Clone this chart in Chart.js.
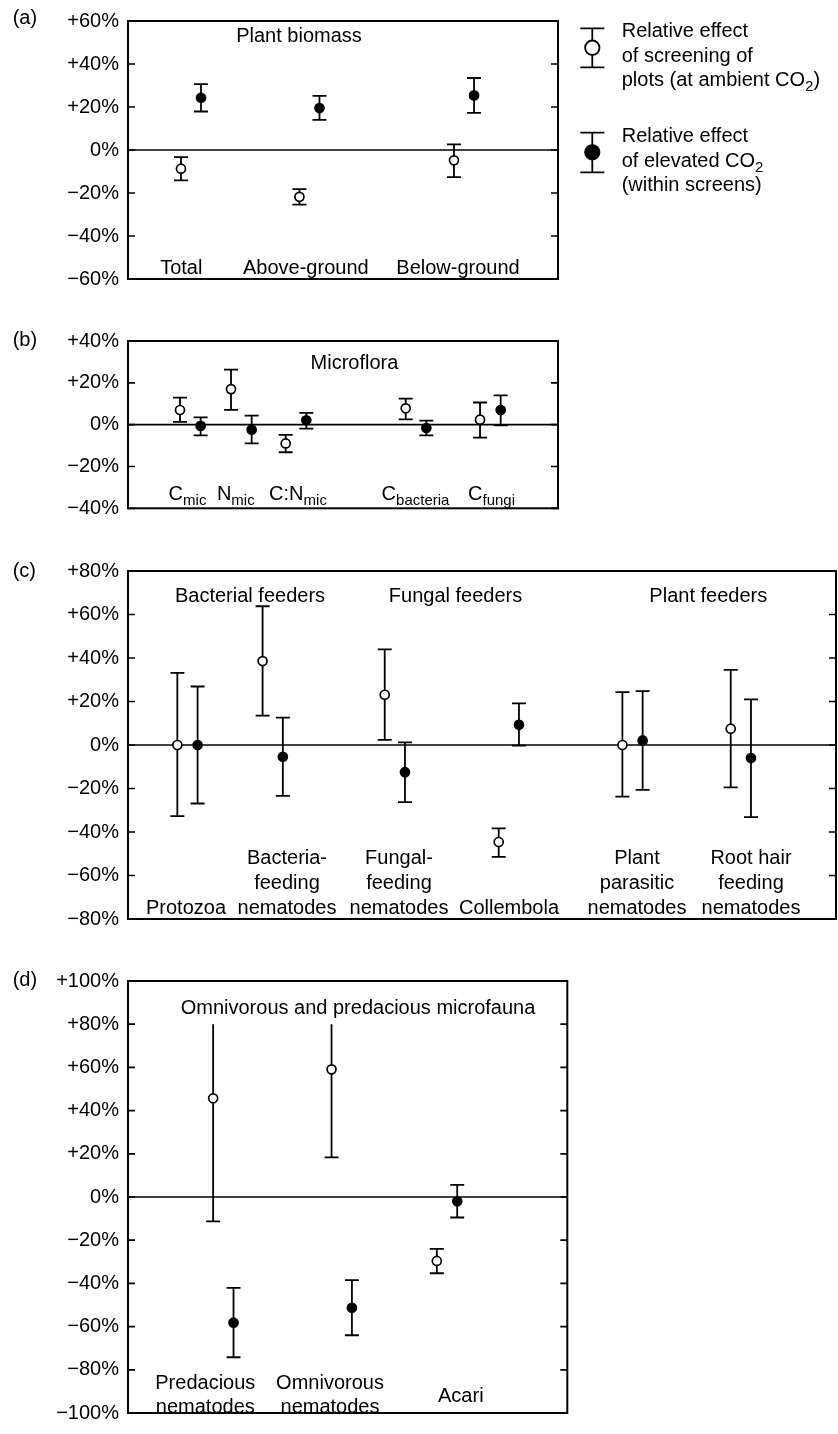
<!DOCTYPE html>
<html>
<head>
<meta charset="utf-8">
<script src="https://cdn.jsdelivr.net/npm/chart.js@4.4.1/dist/chart.umd.min.js"></script>
<style>
  html, body { margin:0; padding:0; background:#fff; }
  #wrap { position:relative; width:838px; height:1434px; background:#fff; }
  canvas { position:absolute; left:0; }
</style>
</head>
<body>
<div id="wrap">
  <canvas id="ca" width="838" height="300" style="top:0px"></canvas>
  <canvas id="cb" width="838" height="210" style="top:320px"></canvas>
  <canvas id="cc" width="838" height="390" style="top:550px"></canvas>
  <canvas id="cd" width="838" height="474" style="top:960px"></canvas>
</div>
<script>
// ---------------- DATA ----------------
// (a) Plant biomass
const aCategories = ['Total', 'Above-ground', 'Below-ground'];
const aScreenMean = [-8.7, -21.8, -4.8];
const aScreenLow  = [-14.1, -25.4, -12.6];
const aScreenHigh = [-3.3, -18.2, 2.6];
const aCO2Mean = [24.3, 19.5, 25.4];
const aCO2Low  = [17.9, 14.0, 17.3];
const aCO2High = [30.6, 25.2, 33.5];
const aTicks = [-60, -40, -20, 0, 20, 40, 60];

// (b) Microflora  (main text, subscript)
const bCategories = [['C','mic'], ['N','mic'], ['C:N','mic'], ['C','bacteria'], ['C','fungi']];
const bScreenMean = [7.0, 17.0, -9.0, 7.8, 2.4];
const bScreenLow  = [1.3, 7.1, -13.2, 2.5, -6.2];
const bScreenHigh = [12.9, 26.3, -4.9, 12.4, 10.6];
const bCO2Mean = [-0.6, -2.4, 2.1, -1.6, 7.0];
const bCO2Low  = [-5.1, -9.0, -1.9, -5.1, -0.3];
const bCO2High = [3.5, 4.3, 5.6, 1.9, 14.0];
const bTicks = [-40, -20, 0, 20, 40];

// (c) Microfauna feeders
const cGroups = ['Bacterial feeders', 'Fungal feeders', 'Plant feeders'];
const cCategories = [['Protozoa'], ['Bacteria-','feeding','nematodes'], ['Fungal-','feeding','nematodes'],
                     ['Collembola'], ['Plant','parasitic','nematodes'], ['Root hair','feeding','nematodes']];
const cScreenMean = [0, 38.6, 23.1, -44.6, 0, 7.5];
const cScreenLow  = [-32.7, 13.5, 2.4, -51.4, -23.7, -19.5];
const cScreenHigh = [33.2, 63.8, 44.0, -38.3, 24.3, 34.5];
const cCO2Mean = [0, -5.4, -12.5, 9.3, 2.1, -6.0];
const cCO2Low  = [-26.9, -23.4, -26.3, -0.3, -20.6, -33.2];
const cCO2High = [26.9, 12.6, 1.2, 19.1, 24.8, 21.0];
const cTicks = [-80, -60, -40, -20, 0, 20, 40, 60, 80];

// (d) Omnivorous and predacious microfauna
const dCategories = [['Predacious','nematodes'], ['Omnivorous','nematodes'], ['Acari']];
const dScreenMean = [45.7, 59.1, -29.6];
const dScreenLow  = [-11.3, 18.3, -35.3];
const dScreenHigh = [80, 80, -24.0];
const dScreenHighOpen = [true, true, false];   // bar continues beyond drawn end (no cap)
const dCO2Mean = [-58.2, -51.3, -2.0];
const dCO2Low  = [-74.2, -64.0, -9.5];
const dCO2High = [-42.1, -38.5, 5.6];
const dTicks = [-100, -80, -60, -40, -20, 0, 20, 40, 60, 80, 100];

// ---------------- STYLE / LAYOUT ----------------
const FONT = '"Liberation Sans", Arial, Helvetica, sans-serif';
const FS = 20, SUBFS = 15;

function fmtPct(v) {
  if (v > 0) return '+' + v + '%';
  if (v < 0) return '\u2212' + Math.abs(v) + '%';
  return '0%';
}

function drawRuns(ctx, runs, x, baseline, align) {
  let w = 0;
  runs.forEach(r => { ctx.font = (r.sub ? SUBFS : FS) + 'px ' + FONT; r.w = ctx.measureText(r.t).width; w += r.w; });
  let cx = align === 'center' ? x - w / 2 : x;
  ctx.textAlign = 'left';
  ctx.textBaseline = 'alphabetic';
  runs.forEach(r => {
    ctx.font = (r.sub ? SUBFS : FS) + 'px ' + FONT;
    ctx.fillText(r.t, cx, baseline + (r.sub ? 5 : 0));
    cx += r.w;
  });
}
function text(ctx, t, x, y, align) {
  ctx.font = FS + 'px ' + FONT;
  ctx.textAlign = align || 'center';
  ctx.textBaseline = 'alphabetic';
  ctx.fillText(t, x, y);
}
function lines(ctx, arr, x, lastBaseline, step) {
  const n = arr.length;
  arr.forEach((t, i) => text(ctx, t, x, lastBaseline - (n - 1 - i) * step, 'center'));
}

const framePlugin = {
  id: 'frame',
  beforeDatasetsDraw(chart) {
    const { ctx, chartArea: a, scales: { y } } = chart;
    ctx.save();
    ctx.strokeStyle = '#000';
    ctx.lineWidth = 1.7;
    const y0 = y.getPixelForValue(0);
    ctx.beginPath(); ctx.moveTo(a.left, y0); ctx.lineTo(a.right, y0); ctx.stroke();
    ctx.restore();
  },
  afterDraw(chart) {
    const { ctx, chartArea: a, scales: { y } } = chart;
    ctx.save();
    ctx.strokeStyle = '#000';
    ctx.lineWidth = 2;
    ctx.strokeRect(a.left, a.top, a.right - a.left, a.bottom - a.top);
    ctx.lineWidth = 1.7;
    ctx.beginPath();
    y.ticks.forEach(t => {
      const py = y.getPixelForValue(t.value);
      ctx.moveTo(a.left, py); ctx.lineTo(a.left + 7, py);
      ctx.moveTo(a.right - 7, py); ctx.lineTo(a.right, py);
    });
    ctx.stroke();
    ctx.restore();
  }
};

const errorPlugin = {
  id: 'errorBars',
  beforeDatasetsDraw(chart) {
    const { ctx, scales: { x, y } } = chart;
    ctx.save();
    ctx.strokeStyle = '#000';
    ctx.lineWidth = 1.8;
    chart.data.datasets.forEach(ds => {
      ds.data.forEach((pt, i) => {
        const px = x.getPixelForValue(pt.x);
        const yl = y.getPixelForValue(ds.errLow[i]);
        const yh = y.getPixelForValue(ds.errHigh[i]);
        ctx.beginPath();
        ctx.moveTo(px, yl); ctx.lineTo(px, yh);
        ctx.moveTo(px - 7, yl); ctx.lineTo(px + 7, yl);
        if (!(ds.errHighOpen && ds.errHighOpen[i])) { ctx.moveTo(px - 7, yh); ctx.lineTo(px + 7, yh); }
        ctx.stroke();
      });
    });
    ctx.restore();
  }
};

function makePanel(p) {
  const mk = (mean, low, high, open, off, filled) => ({
    data: p.pos.map((v, i) => ({ x: v + off, y: mean[i] })),
    errLow: low, errHigh: high, errHighOpen: open,
    pointStyle: 'circle', pointRadius: 4.5, pointHoverRadius: 4.5,
    pointBorderWidth: 1.7, pointBorderColor: '#000',
    pointBackgroundColor: filled ? '#000' : '#fff',
    showLine: false
  });
  const annot = { id: 'annot', afterDraw(chart) { const ctx = chart.ctx; ctx.save(); ctx.fillStyle = '#000'; p.annotate(ctx, chart); ctx.restore(); } };
  return new Chart(document.getElementById(p.id), {
    type: 'scatter',
    data: { datasets: [
      mk(p.sMean, p.sLow, p.sHigh, p.sOpen, -p.dodge, false),
      mk(p.cMean, p.cLow, p.cHigh, null, p.dodge, true)
    ] },
    options: {
      responsive: false, animation: false, events: [],
      layout: { padding: p.padding, autoPadding: false },
      plugins: { legend: { display: false }, tooltip: { enabled: false } },
      scales: {
        x: { type: 'linear', display: false, min: 0, max: 100 },
        y: {
          type: 'linear', min: p.ticks[0], max: p.ticks[p.ticks.length - 1],
          afterBuildTicks: s => { s.ticks = p.ticks.map(v => ({ value: v })); },
          ticks: { callback: v => fmtPct(v), color: '#000', font: { family: FONT, size: FS }, padding: 9, autoSkip: false },
          grid: { display: false, drawTicks: false },
          border: { display: false },
          afterFit: s => { s.width = 128; }
        }
      }
    },
    plugins: [framePlugin, errorPlugin, annot]
  });
}

// (a)
makePanel({
  id: 'ca', ticks: aTicks, padding: { top: 19, bottom: 15, left: 0, right: 280 },
  pos: [14.65, 42.2, 78.14], dodge: 2.33,
  sMean: aScreenMean, sLow: aScreenLow, sHigh: aScreenHigh, sOpen: null,
  cMean: aCO2Mean, cLow: aCO2Low, cHigh: aCO2High,
  annotate(ctx) {
    text(ctx, '(a)', 12.7, 24, 'left');
    text(ctx, 'Plant biomass', 299, 42);
    const lx = [181.3, 305.8, 458];
    aCategories.forEach((c, i) => text(ctx, c, lx[i], 274));
    // legend
    ctx.strokeStyle = '#000'; ctx.lineWidth = 1.8;
    const mx = 592.3;
    [[47.7, 28.3, 67.3, '#fff'], [152.3, 132.7, 172.3, '#000']].forEach(([cy, t, b, fill]) => {
      ctx.beginPath();
      ctx.moveTo(mx, t); ctx.lineTo(mx, b);
      ctx.moveTo(mx - 12, t); ctx.lineTo(mx + 12, t);
      ctx.moveTo(mx - 12, b); ctx.lineTo(mx + 12, b);
      ctx.stroke();
      ctx.beginPath(); ctx.arc(mx, cy, 7.2, 0, Math.PI * 2);
      ctx.fillStyle = fill; ctx.fill(); ctx.lineWidth = 1.8; ctx.stroke();
    });
    ctx.fillStyle = '#000';
    const tx = 621.7;
    drawRuns(ctx, [{ t: 'Relative effect' }], tx, 37, 'left');
    drawRuns(ctx, [{ t: 'of screening of' }], tx, 61.5, 'left');
    drawRuns(ctx, [{ t: 'plots (at ambient CO' }, { t: '2', sub: true }, { t: ')' }], tx, 86, 'left');
    drawRuns(ctx, [{ t: 'Relative effect' }], tx, 142, 'left');
    drawRuns(ctx, [{ t: 'of elevated CO' }, { t: '2', sub: true }], tx, 166.5, 'left');
    drawRuns(ctx, [{ t: '(within screens)' }], tx, 191, 'left');
  }
});

// (b)
makePanel({
  id: 'cb', ticks: bTicks, padding: { top: 20, bottom: 21.7, left: 0, right: 280 },
  pos: [14.49, 26.36, 39.07, 66.98, 84.27], dodge: 2.4,
  sMean: bScreenMean, sLow: bScreenLow, sHigh: bScreenHigh, sOpen: null,
  cMean: bCO2Mean, cLow: bCO2Low, cHigh: bCO2High,
  annotate(ctx) {
    text(ctx, '(b)', 12.7, 26, 'left');
    text(ctx, 'Microflora', 354.5, 49);
    const lx = [187.5, 235.8, 298, 415.5, 491.5];
    bCategories.forEach((c, i) => drawRuns(ctx, [{ t: c[0] }, { t: c[1], sub: true }], lx[i], 180, 'center'));
  }
});

// (c)
makePanel({
  id: 'cc', ticks: cTicks, padding: { top: 20.7, bottom: 14.3, left: 0, right: 2 },
  pos: [8.40, 20.44, 37.69, 53.79, 71.26, 86.56], dodge: 1.43,
  sMean: cScreenMean, sLow: cScreenLow, sHigh: cScreenHigh, sOpen: null,
  cMean: cCO2Mean, cLow: cCO2Low, cHigh: cCO2High,
  annotate(ctx) {
    text(ctx, '(c)', 12.7, 27, 'left');
    const gx = [250, 455.5, 708.3];
    cGroups.forEach((g, i) => text(ctx, g, gx[i], 51.7));
    const lx = [186, 287, 399, 509, 637, 751];
    cCategories.forEach((c, i) => lines(ctx, c, lx[i], 363.5, 25));
  }
});

// (d)
makePanel({
  id: 'cd', ticks: dTicks, padding: { top: 19, bottom: 13, left: 0, right: 270.7 },
  pos: [21.7, 48.65, 72.62], dodge: 2.32,
  sMean: dScreenMean, sLow: dScreenLow, sHigh: dScreenHigh, sOpen: dScreenHighOpen,
  cMean: dCO2Mean, cLow: dCO2Low, cHigh: dCO2High,
  annotate(ctx) {
    text(ctx, '(d)', 12.7, 26, 'left');
    text(ctx, 'Omnivorous and predacious microfauna', 358, 54);
    const lx = [205.3, 330, 460.8];
    const lb = [453.3, 453.3, 441.7];
    dCategories.forEach((c, i) => lines(ctx, c, lx[i], lb[i], 24.3));
  }
});
</script>
</body>
</html>
